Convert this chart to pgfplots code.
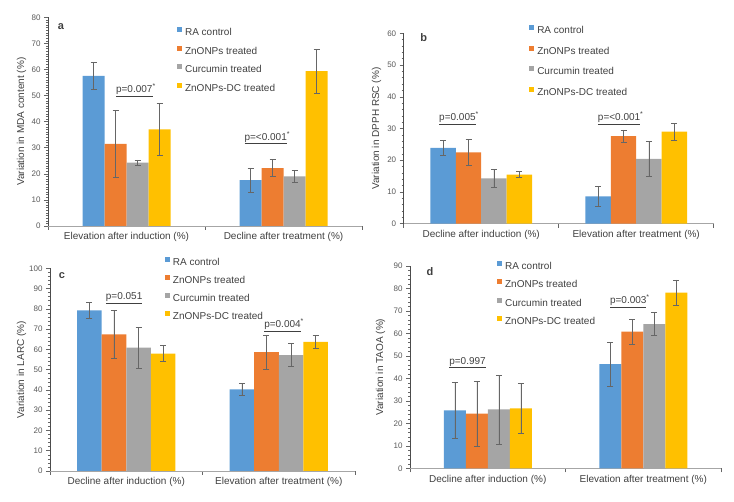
\documentclass[border=0pt]{standalone}
\usepackage{fontspec}
\setmainfont{Liberation Sans}
\usepackage{pgfplots}
\pgfplotsset{compat=1.18}
\definecolor{cblue}{HTML}{5B9BD5}
\definecolor{corange}{HTML}{ED7D31}
\definecolor{cgray}{HTML}{A5A5A5}
\definecolor{cyellow}{HTML}{FFC000}
\definecolor{txt}{HTML}{404040}
\definecolor{tick}{HTML}{595959}
\pgfplotsset{
  panel/.style={
    scale only axis,
    ybar=0pt,
    axis lines*=left,
    xmin=-0.5, xmax=1.5, ymin=0,
    xtick={-0.5,0.5,1.5}, xticklabels={},
    extra x ticks={0,1},
    extra x tick style={major tick length=0pt,
      tick label style={font=\fontsize{10}{12}\selectfont, text=txt, yshift=-3pt}},
    tick align=outside,
    major tick length=4pt, minor tick length=2pt,
    tick style={black!60, line width=0.5pt},
    y axis line style={black!70, line width=0.6pt},
    x axis line style={black!35, line width=0.6pt},
    yticklabel style={font=\fontsize{8}{10}\selectfont, text=tick},
    /pgf/number format/assume math mode=true,
    ylabel style={font=\fontsize{10}{12}\selectfont, text=txt, anchor=center},
    error bars/y dir=both, error bars/y explicit,
    error bars/error bar style={black!60, line width=0.5pt},
    error bars/error mark options={black!60, line width=0.5pt, mark size=3pt, rotate=90},
    legend cell align=left,
    legend style={draw=none, fill=none, inner sep=0pt, outer sep=0pt,
      anchor=north west, font=\fontsize{10}{12}\selectfont, text=txt,
      column sep=3pt,
      nodes={inner sep=0pt, text height=7.2pt, text depth=2pt}},
    legend image code/.code={\fill[#1, draw=none] (0pt,0.8pt) rectangle (5pt,5.8pt);},
  },
}
\tikzset{
  pl/.style={font=\fontsize{10}{12}\selectfont, text=txt, inner sep=0pt},
  lt/.style={font=\bfseries\fontsize{11}{13}\selectfont, text=txt, inner sep=0pt},
}
\begin{document}
\begin{tikzpicture}[x=1pt,y=1pt]
\useasboundingbox (0,0) rectangle (734,502);

% Panel a
\begin{axis}[panel, at={(48pt,276pt)}, anchor=south west,
  width=314pt, height=208.7pt, ymax=80, ytick={0,10,...,80}, minor y tick num=9,
  bar width=22pt,
  extra x tick labels={Elevation after induction (\%), Decline after treatment (\%)},
  ylabel={Variation in MDA content (\%)},
  ylabel style={at={(axis description cs:-0.084,0.5)}},
  legend style={at={(axis description cs:0.411,0.952)}, row sep=8.1pt}]
\addplot[fill=cblue, draw=none] coordinates {(0,57.5) +- (0,5.2) (1,17.6) +- (0,4.7)};
\addplot[fill=corange, draw=none] coordinates {(0,31.5) +- (0,12.8) (1,22.2) +- (0,3.3)};
\addplot[fill=cgray, draw=none] coordinates {(0,24.3) +- (0,1.0) (1,19.0) +- (0,2.4)};
\addplot[fill=cyellow, draw=none] coordinates {(0,37.0) +- (0,10.0) (1,59.4) +- (0,8.4)};
\legend{RA control, ZnONPs treated, Curcumin treated, ZnONPs-DC treated}
\node[pl] at (axis cs:0.06,52.1) {\underline{p=0.007}\textsuperscript{*}};
\node[pl] at (axis cs:0.897,33.8) {\underline{p=<0.001}\textsuperscript{*}};
\node[lt] at (axis description cs:0.041,0.954) {a};
\end{axis}

% Panel b
\begin{axis}[panel, at={(403.7pt,278.3pt)}, anchor=south west,
  width=310pt, height=190.4pt, ymax=60, ytick={0,10,...,60}, minor y tick num=4,
  bar width=25.4pt,
  extra x tick labels={Decline after induction (\%), Elevation after treatment (\%)},
  ylabel={Variation in DPPH RSC (\%)},
  ylabel style={at={(axis description cs:-0.088,0.5)}},
  legend style={at={(axis description cs:0.405,1.041)}, row sep=10.1pt}]
\addplot[fill=cblue, draw=none] coordinates {(0,23.9) +- (0,2.4) (1,8.6) +- (0,3.1)};
\addplot[fill=corange, draw=none] coordinates {(0,22.5) +- (0,4.0) (1,27.6) +- (0,2.0)};
\addplot[fill=cgray, draw=none] coordinates {(0,14.3) +- (0,2.9) (1,20.4) +- (0,5.5)};
\addplot[fill=cyellow, draw=none] coordinates {(0,15.5) +- (0,1.0) (1,29.0) +- (0,2.6)};
\legend{RA control, ZnONPs treated, Curcumin treated, ZnONPs-DC treated}
\node[pl] at (axis cs:-0.143,33.2) {\underline{p=0.005}\textsuperscript{*}};
\node[pl] at (axis cs:0.90,33.2) {\underline{p=<0.001}\textsuperscript{*}};
\node[lt] at (axis description cs:0.065,0.975) {b};
\end{axis}

% Panel c
\begin{axis}[panel, at={(50pt,31pt)}, anchor=south west,
  width=305pt, height=202.7pt, ymax=100, ytick={0,10,...,100}, minor y tick num=4,
  bar width=24.6pt,
  extra x tick labels={Decline after induction (\%), Elevation after treatment (\%)},
  ylabel={Variation in LARC (\%)},
  ylabel style={at={(axis description cs:-0.093,0.5)}},
  legend style={at={(axis description cs:0.377,1.054)}, row sep=7.5pt}]
\addplot[fill=cblue, draw=none] coordinates {(0,79.3) +- (0,4.0) (1,40.3) +- (0,2.8)};
\addplot[fill=corange, draw=none] coordinates {(0,67.4) +- (0,11.7) (1,58.6) +- (0,8.5)};
\addplot[fill=cgray, draw=none] coordinates {(0,60.9) +- (0,10.0) (1,57.2) +- (0,5.6)};
\addplot[fill=cyellow, draw=none] coordinates {(0,57.9) +- (0,3.9) (1,63.7) +- (0,3.3)};
\legend{RA control, ZnONPs treated, Curcumin treated, ZnONPs-DC treated}
\node[pl] at (axis cs:-0.014,85.2) {\underline{p=0.051}};
\node[pl] at (axis cs:1.035,72.0) {\underline{p=0.004}\textsuperscript{*}};
\node[lt] at (axis description cs:0.039,0.962) {c};
\end{axis}

% Panel d
\begin{axis}[panel, at={(410pt,33.7pt)}, anchor=south west,
  width=311pt, height=202.3pt, ymax=90, ytick={0,10,...,90}, minor y tick num=4,
  bar width=22pt,
  extra x tick labels={Decline after induction (\%), Elevation after treatment (\%)},
  ylabel={Variation in TAOA (\%)},
  ylabel style={at={(axis description cs:-0.095,0.5)}},
  legend style={at={(axis description cs:0.28,1.026)}, row sep=8.1pt}]
\addplot[fill=cblue, draw=none] coordinates {(0,25.8) +- (0,12.4) (1,46.3) +- (0,9.6)};
\addplot[fill=corange, draw=none] coordinates {(0,24.3) +- (0,14.6) (1,60.8) +- (0,5.4)};
\addplot[fill=cgray, draw=none] coordinates {(0,26.2) +- (0,15.4) (1,64.1) +- (0,5.1)};
\addplot[fill=cyellow, draw=none] coordinates {(0,26.7) +- (0,11.2) (1,78.1) +- (0,5.7)};
\legend{RA control, ZnONPs treated, Curcumin treated, ZnONPs-DC treated}
\node[pl] at (axis cs:-0.13,47.0) {\underline{p=0.997}};
\node[pl] at (axis cs:0.914,74.4) {\underline{p=0.003}\textsuperscript{*}};
\node[lt] at (axis description cs:0.064,0.970) {d};
\end{axis}
\end{tikzpicture}
\end{document}
